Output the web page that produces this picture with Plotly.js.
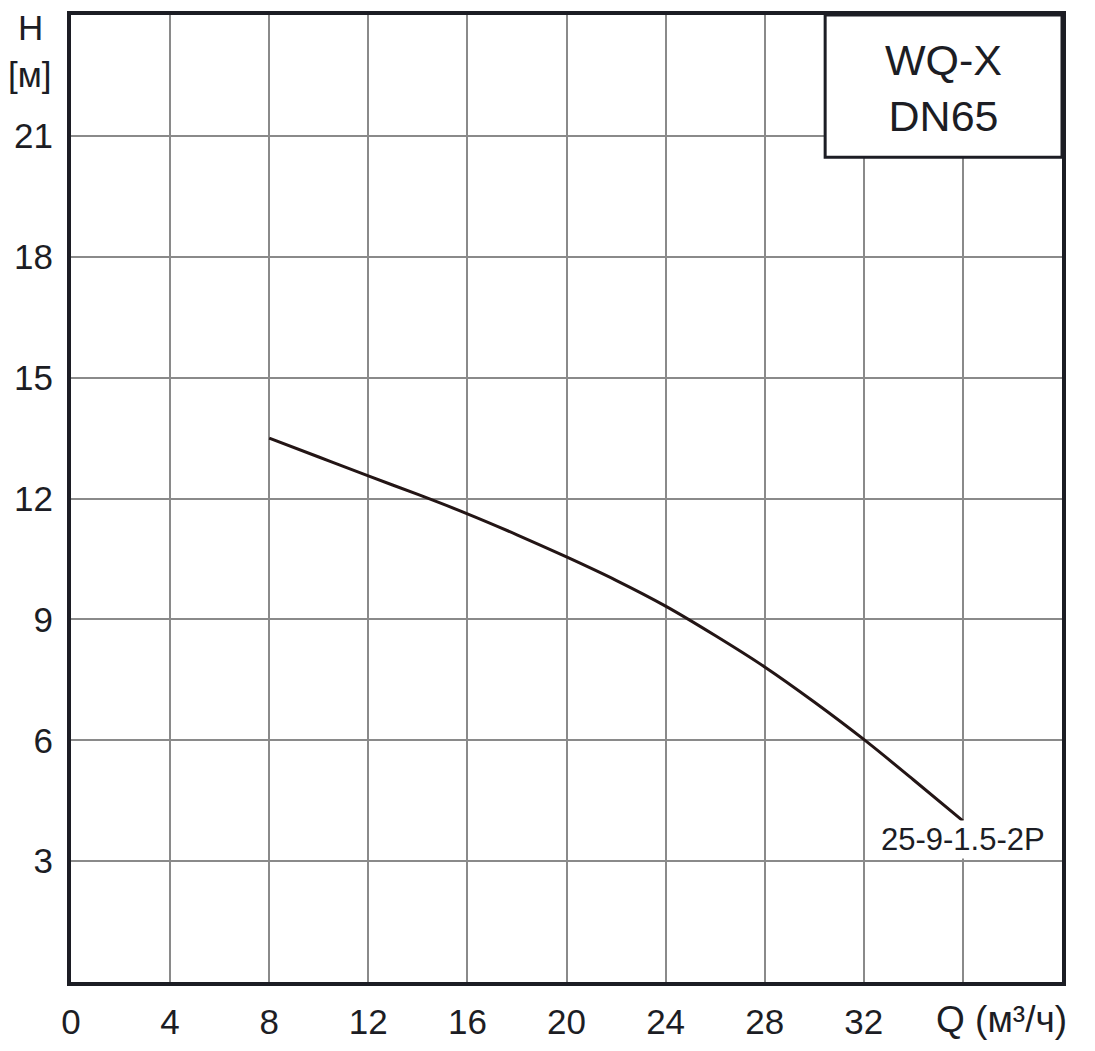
<!DOCTYPE html>
<html>
<head>
<meta charset="utf-8">
<script src="https://cdn.plot.ly/plotly-3.0.1.min.js"></script>
<style>
  html, body { margin: 0; padding: 0; background: #fff; }
  #plot { width: 1095px; height: 1051px; }
</style>
</head>
<body>
<div id="plot"></div>
<script>
// pump curve 25-9-1.5-2P
const flowQ = [8, 10, 12, 14, 16, 18, 20, 22, 24, 26, 28, 30, 32, 34, 36];
const headH = [13.5, 13.03, 12.56, 12.1, 11.62, 11.1, 10.55, 9.97, 9.33, 8.6, 7.82, 6.95, 6.02, 5.02, 4.0];
const curveName = "25-9-1.5-2P";

const xTicks = [0, 4, 8, 12, 16, 20, 24, 28, 32, 36];
const xTickText = ["0", "4", "8", "12", "16", "20", "24", "28", "32", ""];
const yTicks = [3, 6, 9, 12, 15, 18, 21];

const frameColor = "#1c1d24";
const gridColor = "#8a8a8a";
const font = "Liberation Sans, Arial, sans-serif";

const data = [
    {
        x: flowQ,
        y: headH,
        mode: "lines",
        line: { color: "#231515", width: 3, shape: "spline", smoothing: 1 },
        hoverinfo: "x+y",
        showlegend: false
    }
];

const layout = {
    width: 1095,
    height: 1051,
    paper_bgcolor: "#ffffff",
    plot_bgcolor: "#ffffff",
    margin: { l: 71, r: 33, t: 15, b: 69 },
    font: { family: font, color: "#1c1d24", size: 34 },
    xaxis: {
        range: [0, 40],
        tickvals: xTicks,
        ticktext: xTickText,
        showgrid: true,
        gridcolor: gridColor,
        gridwidth: 2,
        zeroline: false,
        showline: true,
        linecolor: frameColor,
        linewidth: 4,
        mirror: true,
        ticks: "",
        ticklabelstandoff: 6,
        tickfont: { size: 35, family: font, color: "#1c1d24" },
        fixedrange: true
    },
    yaxis: {
        range: [0, 24],
        tickvals: yTicks,
        showgrid: true,
        gridcolor: gridColor,
        gridwidth: 2,
        zeroline: false,
        showline: true,
        linecolor: frameColor,
        linewidth: 4,
        mirror: true,
        ticks: "",
        ticklabelstandoff: 7,
        tickfont: { size: 35, family: font, color: "#1c1d24" },
        fixedrange: true
    },
    shapes: [
        {
            type: "rect",
            xref: "paper", yref: "paper",
            x0: 0.761, x1: 1.0, y0: 0.853, y1: 1.0,
            fillcolor: "#ffffff",
            line: { color: frameColor, width: 3 },
            layer: "above"
        }
    ],
    annotations: [
        {
            xref: "paper", yref: "paper",
            x: 0.880, y: 0.925,
            text: "WQ-X<br>DN65",
            showarrow: false,
            font: { size: 43, family: font, color: "#1c1d24" },
            xanchor: "center", yanchor: "middle"
        },
        {
            xref: "paper", yref: "paper",
            x: 0, y: 1,
            xshift: -41, yshift: -12,
            text: "H",
            showarrow: false,
            font: { size: 35, family: font, color: "#1c1d24" },
            xanchor: "center", yanchor: "middle"
        },
        {
            xref: "paper", yref: "paper",
            x: 0, y: 1,
            xshift: -41, yshift: -59,
            text: "[м]",
            showarrow: false,
            font: { size: 35, family: font, color: "#1c1d24" },
            xanchor: "center", yanchor: "middle"
        },
        {
            xref: "x", yref: "paper",
            x: 36, y: 0,
            xshift: -29, yshift: -37,
            text: "Q (м³/ч)",
            showarrow: false,
            font: { size: 37, family: font, color: "#1c1d24" },
            xanchor: "left", yanchor: "middle"
        },
        {
            xref: "x", yref: "y",
            x: flowQ[flowQ.length - 1], y: headH[headH.length - 1],
            yshift: -19,
            text: curveName,
            showarrow: false,
            bgcolor: "#ffffff",
            borderpad: 1,
            font: { size: 31, family: font, color: "#1c1d24" },
            xanchor: "center", yanchor: "middle"
        }
    ]
};

Plotly.newPlot("plot", data, layout, { displayModeBar: false, staticPlot: true });
</script>
</body>
</html>
